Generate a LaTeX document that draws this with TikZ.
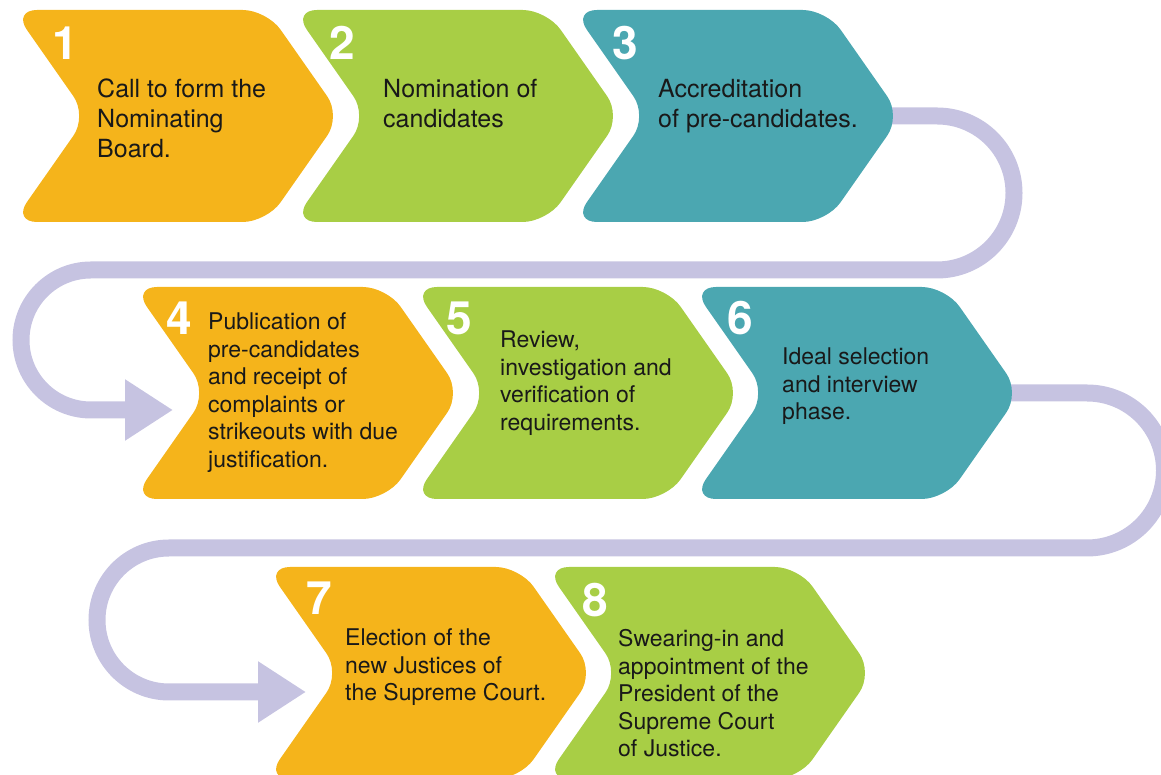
\documentclass[tikz,border=0pt]{standalone}
\usepackage{fontspec}
\setmainfont{TeX Gyre Heros}
\usetikzlibrary{shapes.symbols,arrows.meta,backgrounds}
\definecolor{stepOrange}{HTML}{F5B41B}
\definecolor{stepGreen}{HTML}{A8CE45}
\definecolor{stepTeal}{HTML}{4BA7B1}
\definecolor{flowLilac}{HTML}{C6C3E1}

\begin{document}
\begin{tikzpicture}[x=1pt, y=1pt,
  chev/.style={signal, signal from=west, signal to=east,
               signal pointer angle=110, minimum width=328pt,
               minimum height=212pt, inner sep=0pt, rounded corners=24pt},
  num/.style={anchor=base west, inner sep=0pt, text=white,
              font=\fontsize{46}{46}\selectfont\bfseries},
  % base = baseline of the last line
  txt/.style={anchor=base west, inner sep=0pt, align=left,
              text=black!90, font=\fontsize{23}{27.5}\selectfont},
  big/.style={font=\fontsize{25}{30}\selectfont},
  flow/.style={draw=flowLilac, line width=17pt},
  headarr/.style={-{Triangle[width=58pt,length=48pt]}}
]
  \useasboundingbox (0,0) rectangle (1161,775);

  % Chevrons, three rows
  \foreach \i/\x/\y/\c in {1/177/659/stepOrange, 2/457/659/stepGreen,
      3/737/659/stepTeal, 4/297/382/stepOrange, 5/577/382/stepGreen,
      6/856/382/stepTeal, 7/430/102/stepOrange, 8/709/102/stepGreen}
    \node[chev, fill=\c] (c\i) at (\x,\y) {};

  % Step numbers
  \foreach \i/\x/\y in {1/52/715, 2/329/715, 3/612/715, 4/166/440,
      5/446/440, 6/727/440, 7/306/160, 8/582/158}
    \node[num] (n\i) at (\x,\y) {\i};

  % Step texts
  \node[txt, big] (t1) at (97,617) {Call to form the\\Nominating\\Board.};
  \node[txt, big] (t2) at (383,647) {Nomination of\\candidates};
  \node[txt, big] (t3) at (658,647) {Accreditation\\of pre-candidates.};
  \node[txt] (t4) at (208,307.5) {Publication of\\pre-candidates\\and receipt of\\complaints or\\strikeouts with due\\justification.};
  \node[txt] (t5) at (500,344.5) {Review,\\investigation and\\verification of\\requirements.};
  \node[txt] (t6) at (782,355) {Ideal selection\\and interview\\phase.};
  \node[txt] (t7) at (345,74) {Election of the\\new Justices of\\the Supreme Court.};
  \node[txt] (t8) at (618,18) {Swearing-in and\\appointment of the\\President of the\\Supreme Court\\of Justice.};

  % Loops between the rows
  \coordinate (in4) at (173,365);
  \coordinate (in7) at (306,83);
  \begin{pgfonlayer}{background}
    \draw[flow, headarr] ([xshift=-30pt]c3.east) -- (c3.east -| 937,0)
      arc[start angle=90, end angle=-90, radius=77] -- ++(-846,0)
      arc[start angle=90, end angle=270, radius=70] -- (in4);
    \draw[flow, headarr] ([xshift=-30pt]c6.east) -- (c6.east -| 1087,0)
      arc[start angle=90, end angle=-90, radius=77.5] -- ++(-918,0)
      arc[start angle=90, end angle=270, radius=72] -- (in7);
  \end{pgfonlayer}
\end{tikzpicture}
\end{document}
